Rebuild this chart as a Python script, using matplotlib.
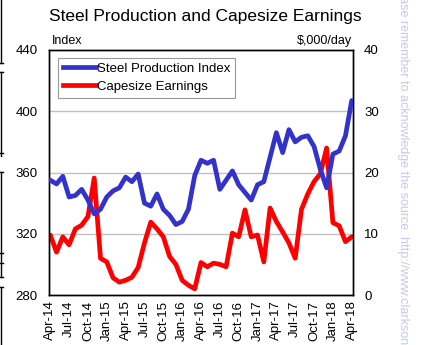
import matplotlib
matplotlib.use("Agg")
import matplotlib.pyplot as plt
from matplotlib.lines import Line2D
import numpy as np

plt.rcParams['font.family'] = ['Liberation Sans', 'DejaVu Sans']

# Monthly data, Apr-2014 .. Apr-2018
steel_index = [355, 352.5, 357.5, 344, 345, 349, 342, 333, 336, 344, 348, 350,
               357, 354, 359, 340, 338, 346, 336, 332, 326, 328, 336, 358,
               368, 366, 368, 349, 355, 361, 352, 347, 342, 352, 354, 370,
               386, 373, 388, 380, 383, 384, 377, 362, 350, 372, 374, 384, 407]
capesize = [9.8, 7.0, 9.5, 8.2, 10.8, 11.4, 12.8, 19.1, 6.0, 5.4, 2.8, 2.1,
            2.4, 2.9, 4.5, 8.5, 11.9, 10.8, 9.5, 6.3, 5.0, 2.4, 1.6, 1.0,
            5.3, 4.6, 5.2, 5.0, 4.6, 10.1, 9.5, 13.9, 9.5, 9.8, 5.4, 14.2,
            12.0, 10.3, 8.5, 6.0, 14.0, 16.5, 18.5, 19.8, 24.0, 11.8, 11.3, 8.7, 9.5]
tick_labels = ['Apr-14', 'Jul-14', 'Oct-14', 'Jan-15', 'Apr-15', 'Jul-15', 'Oct-15',
               'Jan-16', 'Apr-16', 'Jul-16', 'Oct-16', 'Jan-17', 'Apr-17', 'Jul-17',
               'Oct-17', 'Jan-18', 'Apr-18']

W, H = 421, 345
fig = plt.figure(figsize=(W / 100, H / 100), dpi=100)
ax = fig.add_axes([49 / W, 1 - 295 / H, (353 - 49) / W, (295 - 50) / H])
ax2 = ax.twinx()

x = np.arange(len(steel_index))
blue = '#3333cc'
red = '#ff0000'

ax.set_ylim(280, 440)
ax2.set_ylim(0, 40)
ax.set_xlim(-0.2, len(steel_index) - 0.8)

for v in [320, 360, 400]:
    ax2.axhline((v - 280) / 4.0, color='#c0c0c0', lw=1.0, zorder=0)

ax2.plot(x, capesize, color=red, lw=3.4, solid_joinstyle='round', solid_capstyle='round', zorder=2)
ax.plot(x, steel_index, color=blue, lw=3.4, solid_joinstyle='round', solid_capstyle='round', zorder=3)
ax.set_zorder(ax2.get_zorder() + 1)
ax.patch.set_visible(False)

ax.set_yticks([280, 320, 360, 400, 440])
ax2.set_yticks([0, 10, 20, 30, 40])
ax.set_xticks(np.arange(0, len(steel_index), 3))
ax.set_xticklabels(tick_labels, rotation=90, fontsize=9.5)
ax.tick_params(axis='both', length=0, labelsize=9.5, pad=8)
ax.tick_params(axis='x', pad=4)
ax2.tick_params(axis='y', length=0, labelsize=9.5, pad=8)
for a in (ax, ax2):
    for s in a.spines.values():
        s.set_color('black')
        s.set_linewidth(1.0)

fig.text(205 / W, 1 - 17 / H, 'Steel Production and Capesize Earnings',
         ha='center', va='center', fontsize=12.5)
fig.text(52 / W, 1 - 41 / H, 'Index', ha='left', va='center', fontsize=9)
fig.text(352 / W, 1 - 41 / H, '$,000/day', ha='right', va='center', fontsize=9)

handles = [Line2D([], [], color=blue, lw=3.4), Line2D([], [], color=red, lw=3.4)]
leg = ax.legend(handles, ['Steel Production Index', 'Capesize Earnings'],
                loc='upper left', bbox_to_anchor=(9 / 304, 1 - 8 / 245),
                fontsize=9.5, frameon=True, fancybox=False, handlelength=2.5,
                handletextpad=0.1, borderpad=0.35, labelspacing=0.45, borderaxespad=0)
leg.get_frame().set_edgecolor('#808080')
leg.get_frame().set_linewidth(0.8)

# watermark
fig.text(403 / W, 1 - 175 / H,
         'Please remember to acknowledge the source. http://www.clarksons.net',
         rotation=-90, ha='center', va='center', fontsize=9, color='#c8c8e8')

# left-edge screenshot artifacts (panel borders)
def seg(x0, y0, x1, y1):
    fig.add_artist(Line2D([x0 / W, x1 / W], [1 - y0 / H, 1 - y1 / H],
                          color='black', lw=1.0))
seg(1, 0, 1, 63); seg(0, 63, 3, 63)
seg(0, 72, 3, 72); seg(1, 72, 1, 156); seg(0, 153, 3, 153)
seg(0, 172, 3, 172); seg(1, 172, 1, 277); seg(0, 253, 3, 253); seg(0, 263, 3, 263); seg(0, 277, 3, 277)
seg(0, 287, 3, 287); seg(1, 287, 1, 345)

fig.savefig('out.png', dpi=100)
